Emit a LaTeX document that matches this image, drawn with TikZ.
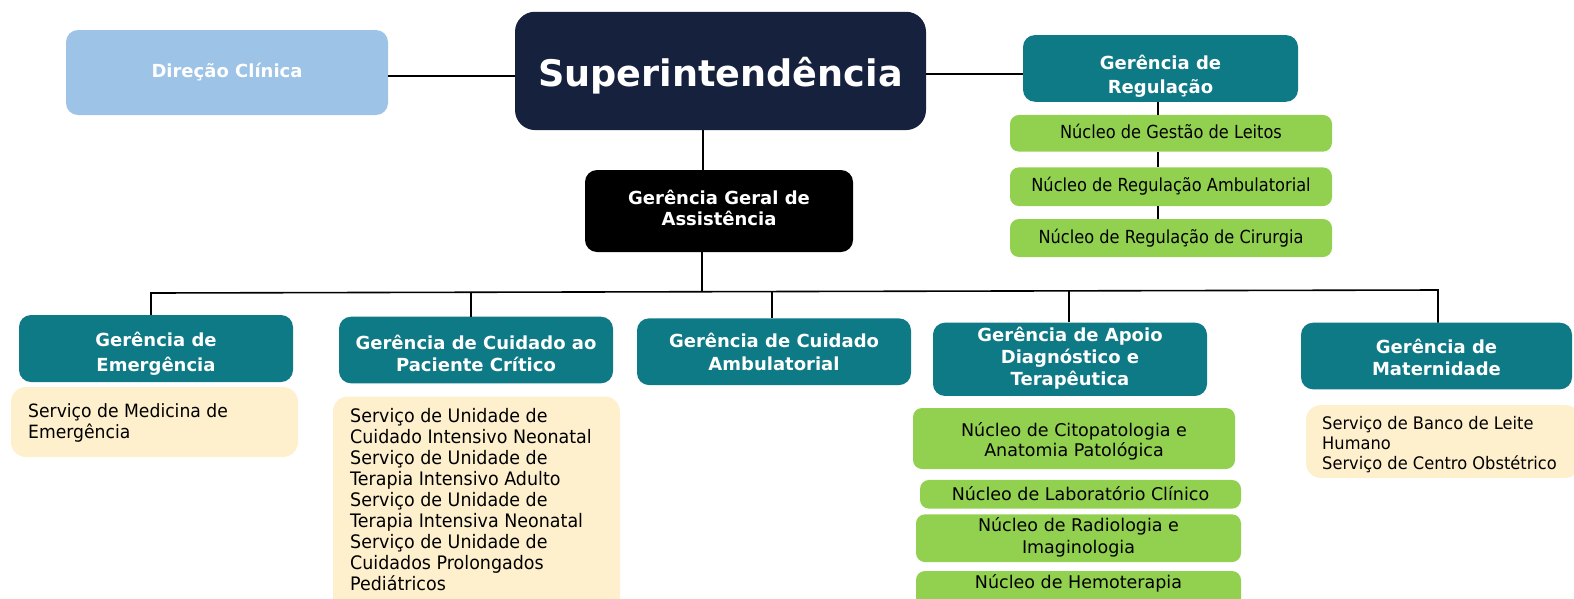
\documentclass[tikz,border=0pt]{standalone}
\usepackage{fontspec}
\setmainfont{DejaVu Sans}
\newfontfamily\narrowA[FakeStretch=0.9]{DejaVu Sans}
\newfontfamily\narrowB[FakeStretch=0.94]{DejaVu Sans}
\definecolor{navy}{HTML}{16213D}
\definecolor{teal}{HTML}{0E7A86}
\definecolor{lblue}{HTML}{9DC3E6}
\definecolor{lgreen}{HTML}{92D050}
\definecolor{cream}{HTML}{FEF0CD}
% centred lines: #1 raise of first baseline above node centre, #2 size, #3 baselineskip, #4 lines
\newcommand{\ctext}[4]{\raisebox{#1}[0pt][0pt]{\fontsize{#2}{#3}\selectfont\begin{tabular}[t]{@{}c@{}}#4\end{tabular}}}
% left lines: #1 size, #2 baselineskip, #3 lines
\newcommand{\ltext}[3]{\fontsize{#1}{#2}\selectfont\begin{tabular}[t]{@{}l@{}}#3\end{tabular}}
\begin{document}
\begin{tikzpicture}[x=1pt,y=-1pt,
  base/.style={rounded corners=12pt, inner sep=0pt},
  head/.style={base, fill=teal, text=white, font=\bfseries},
  nucleo/.style={base, rounded corners=9pt, fill=lgreen, text=black},
  servbox/.style={base, rounded corners=15pt, fill=cream},
  servtext/.style={inner sep=0pt, anchor=base west, text=black, font=\narrowB},
  link/.style={draw=black, line width=1.6pt}
]
\useasboundingbox (0,0) rectangle (1574,598);
\clip (0,0) rectangle (1574,598);

% top level
\node[base, fill=lblue, text=white, font=\bfseries, minimum width=322pt, minimum height=85pt] (dir) at (227,72.5) {\ctext{-4.8pt}{18}{22}{Direção Clínica}};
\node[base, rounded corners=20pt, fill=navy, text=white, font=\bfseries, minimum width=411pt, minimum height=118.3pt] (sup) at (720.5,70.9) {\ctext{-15.1pt}{36.6}{42}{Superintendência}};
\node[head, minimum width=275pt, minimum height=66.7pt] (reg) at (1160.5,68.4) {\ctext{-0.6pt}{18}{24.3}{Gerência de\\Regulação}};
\node[nucleo, font=\narrowA, minimum width=322pt, minimum height=36.7pt] (ngl) at (1171,133.3) {\ctext{-5pt}{18}{20}{Núcleo de Gestão de Leitos}};
\node[nucleo, font=\narrowA, minimum width=322pt, minimum height=38.7pt] (nra) at (1171,186.7) {\ctext{-5pt}{18}{20}{Núcleo de Regulação Ambulatorial}};
\node[nucleo, font=\narrowA, minimum width=322pt, minimum height=38pt] (nrc) at (1171,238) {\ctext{-5pt}{18}{20}{Núcleo de Regulação de Cirurgia}};
\node[base, fill=black, text=white, font=\bfseries, minimum width=268pt, minimum height=82pt] (gga) at (719,211) {\ctext{7pt}{18}{21}{Gerência Geral de\\Assistência}};

% second row
\node[head, minimum width=274pt, minimum height=67pt] (emg) at (156,348.5) {\ctext{1.8pt}{18}{25}{Gerência de\\Emergência}};
\node[head, minimum width=274pt, minimum height=66.6pt] (cri) at (476,350) {\ctext{0.7pt}{18}{21.7}{Gerência de Cuidado ao\\Paciente Crítico}};
\node[head, minimum width=274pt, minimum height=66.7pt] (amb) at (774,351.7) {\ctext{4pt}{18}{22.3}{Gerência de Cuidado\\Ambulatorial}};
\node[head, minimum width=274pt, minimum height=73.3pt] (apo) at (1070,359.3) {\ctext{17.6pt}{18}{21.7}{Gerência de Apoio\\Diagnóstico e\\Terapêutica}};
\node[head, minimum width=271pt, minimum height=66.6pt] (mat) at (1436.5,356) {\ctext{2.7pt}{18}{21.7}{Gerência de\\Maternidade}};

% service boxes
\node[servbox, minimum width=287pt, minimum height=70pt] (semg) at (154.5,422) {};
\node[servtext] (temg) at (28,417.5) {\ltext{18.3}{21}{Serviço de Medicina de\\Emergência}};
\node[servbox, minimum width=287pt, minimum height=224pt] (scri) at (476.5,508.5) {};
\node[servtext] (tcri) at (350,422.3) {\ltext{18.6}{21}{Serviço de Unidade de\\Cuidado Intensivo Neonatal\\Serviço de Unidade de\\Terapia Intensivo Adulto\\Serviço de Unidade de\\Terapia Intensiva Neonatal\\Serviço de Unidade de\\Cuidados Prolongados\\Pediátricos}};
\node[servbox, minimum width=274pt, minimum height=73pt] (smat) at (1443,441.5) {};
\node[servtext] (tmat) at (1322,429) {\ltext{17.3}{20}{Serviço de Banco de Leite\\Humano\\Serviço de Centro Obstétrico}};

% apoio nucleos
\node[nucleo, minimum width=322pt, minimum height=61pt] (cito) at (1074,438.5) {\ctext{2.5pt}{17.5}{20.7}{Núcleo de Citopatologia e\\Anatomia Patológica}};
\node[nucleo, minimum width=321pt, minimum height=28.7pt] (lab) at (1080.5,494.3) {\ctext{-5.7pt}{17.5}{21}{Núcleo de Laboratório Clínico}};
\node[nucleo, minimum width=325pt, minimum height=47.7pt] (rad) at (1078.5,538.2) {\ctext{6.5pt}{17.5}{21.7}{Núcleo de Radiologia e\\Imaginologia}};
\node[nucleo, minimum width=325pt, minimum height=39pt] (hemo) at (1078.5,590.5) {\ctext{2.2pt}{17.5}{21}{Núcleo de Hemoterapia}};

% connectors
\draw[link] ([yshift=-3.2pt]dir.east) -- ([yshift=-4.8pt]sup.west);
\draw[link] ([yshift=-3.1pt]sup.east) -- ([yshift=-5.6pt]reg.west);
\draw[link] (reg.south -| 1158,0) -- (ngl.north -| 1158,0);
\draw[link] (ngl.south -| 1158,0) -- (nra.north -| 1158,0);
\draw[link] (nra.south -| 1158,0) -- (nrc.north -| 1158,0);
\draw[link] (sup.south -| 703,0) -- (gga.north -| 703,0);
\coordinate (busmid) at (702,292);
\draw[link] (gga.south -| 702,0) -- (busmid);
\draw[link] (emg.north -| 151,0) -- (151,293) -- (1438,290) -- (mat.north -| 1438,0);
\draw[link] (cri.north -| 471,0) -- (471,292.5);
\draw[link] (amb.north -| 772,0) -- (772,291.5);
\draw[link] (apo.north -| 1069,0) -- (1069,291);
\end{tikzpicture}
\end{document}
